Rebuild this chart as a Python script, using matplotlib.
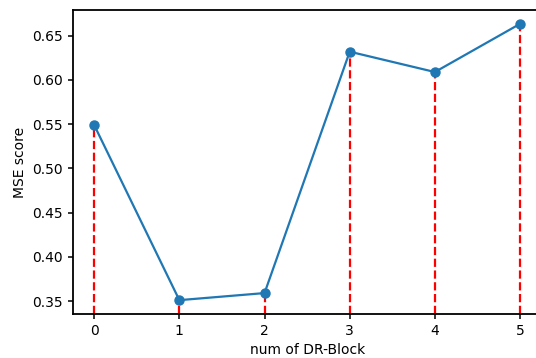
import matplotlib
matplotlib.use('Agg')
import matplotlib.pyplot as plt

# MSE score for each number of DR-Blocks
num_blocks = [0, 1, 2, 3, 4, 5]
mse_scores = [0.549, 0.351, 0.359, 0.632, 0.609, 0.6635]

fig, ax = plt.subplots(figsize=(5.36, 3.58), dpi=100)
fig.subplots_adjust(left=0.136, right=1.01, bottom=0.123, top=0.972)

ax.plot(num_blocks, mse_scores, '-o', color='tab:blue', lw=1.6, ms=6.5, zorder=3)

# Drop dashed guides from the bottom of the axes up to each point
ymin, ymax = ax.get_ylim()
ax.vlines(num_blocks, ymin, mse_scores, colors='r', linestyles='--', lw=1.6, zorder=2)
ax.set_ylim(ymin, ymax)

for sp in ax.spines.values():
    sp.set_linewidth(1.3)
ax.tick_params(width=1.1)

ax.set_xlabel('num of DR-Block')
ax.set_ylabel('MSE score')

plt.savefig('out.png')
